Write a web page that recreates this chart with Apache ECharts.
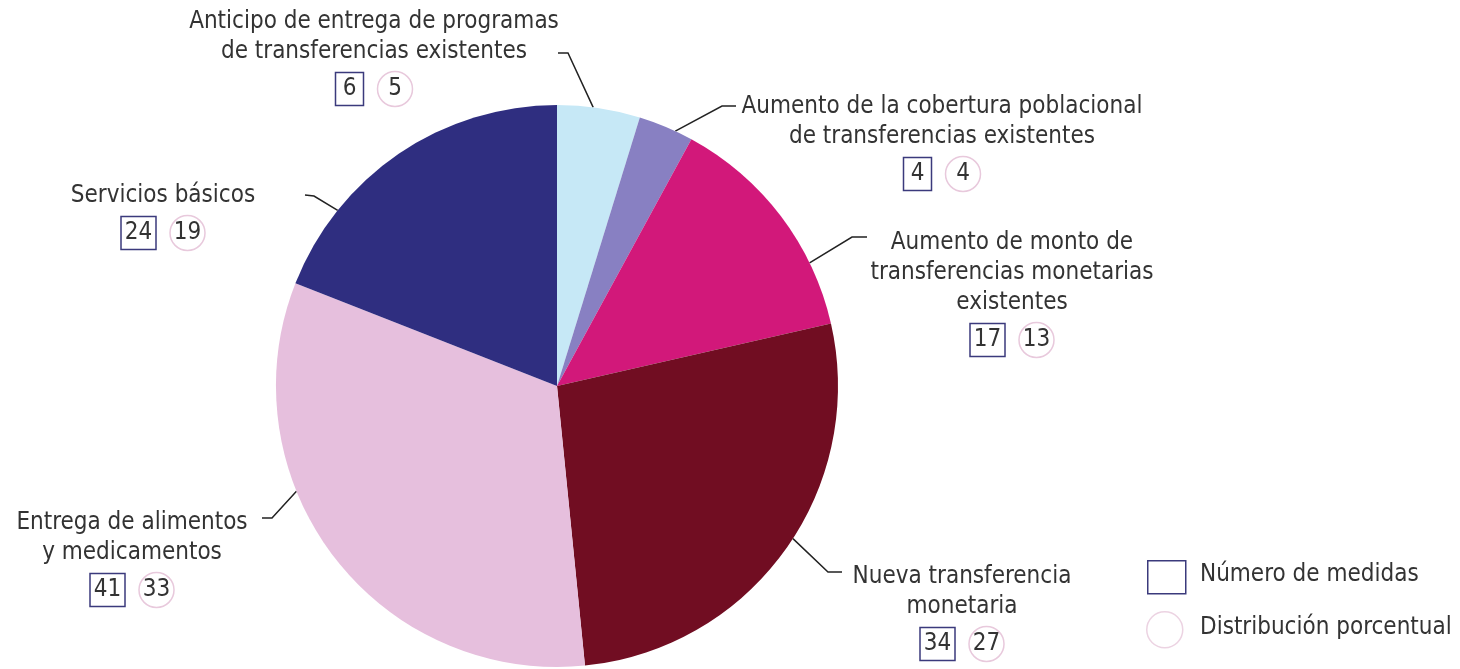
<!DOCTYPE html>
<html>
<head>
<meta charset="utf-8">
<script src="https://cdn.jsdelivr.net/npm/echarts@6/dist/echarts.min.js"></script>
<style>
  html, body { margin: 0; padding: 0; background: #fff; }
  #chart { width: 1460px; height: 669px; }
</style>
</head>
<body>
<div id="chart"></div>
<script>
// categories (label lines), counts and percentage shares
var categories = [
  ["Anticipo de entrega de programas", "de transferencias existentes"],
  ["Aumento de la cobertura poblacional", "de transferencias existentes"],
  ["Aumento de monto de", "transferencias monetarias", "existentes"],
  ["Nueva transferencia", "monetaria"],
  ["Entrega de alimentos", "y medicamentos"],
  ["Servicios básicos"]
];
var medidas = [6, 4, 17, 34, 41, 24];
var porcentaje = [5, 4, 13, 27, 33, 19];
var colors = ["#c6e8f6", "#8880c2", "#d2187a", "#710d22", "#e6bfdd", "#2f2e80"];

var FONT = "'Liberation Sans Narrow', 'DejaVu Sans Condensed', sans-serif";
var CX = 557, CY = 386, R = 281;

var chart = echarts.init(document.getElementById("chart"));

// label anchor spots (center x, top y)
var labelSpots = [
  [374, 7], [942, 92], [1012, 228], [962, 562], [132, 508], [163, 181]
];
// leader lines: angle on the rim (deg, clockwise from top), bend point, end point
var leaders = [
  { a: 7.4, bend: [568, 53], end: [558, 53] },
  { a: 24.9, bend: [722, 106], end: [736, 106] },
  { a: 64, bend: [852, 237], end: [867, 237] },
  { a: 122.9, bend: [828, 572], end: [842, 572] },
  { a: 248, bend: [272, 518], end: [262, 518] },
  { a: 308.7, bend: [314, 196], end: [305, 195] }
];

var data = categories.map(function (c, i) {
  return {
    name: c.join(" "),
    value: medidas[i],
    itemStyle: { color: colors[i] }
  };
});

var boxStyle = function (w) {
  return {
    fontFamily: FONT, fontSize: 24, color: "#333",
    borderColor: "#3b3a7c", borderWidth: 1.5,
    width: w, height: 33, lineHeight: 44, padding: [0, 4], align: "center"
  };
};

var option = {
  animation: false,
  series: [
    {
      type: "pie",
      center: [CX, CY],
      radius: R,
      startAngle: 90,
      clockwise: true,
      data: data,
      label: {
        show: true,
        position: "outside",
        fontFamily: FONT,
        formatter: function (p) {
          var i = p.dataIndex;
          var lines = categories[i].map(function (l) { return "{t|" + l + "}"; });
          var tag = String(medidas[i]).length > 1 ? "n2" : "n1";
          return lines.join("\n") + "\n{" + tag + "|" + medidas[i] + "}{g|}{p|" + porcentaje[i] + "}";
        },
        rich: {
          t: { fontFamily: FONT, fontSize: 24, color: "#333", lineHeight: 30, align: "center" },
          n1: boxStyle(20),
          n2: boxStyle(27),
          g: { width: 14 },
          p: {
            fontFamily: FONT, fontSize: 24, color: "#333",
            borderColor: "#e8c9dc", borderWidth: 1.5, borderRadius: 18,
            width: 35, height: 35, lineHeight: 44, align: "center"
          }
        }
      },
      labelLine: {
        show: true,
        lineStyle: { color: "#222", width: 1.5 }
      },
      labelLayout: function (params) {
        var i = params.dataIndex;
        var s = labelSpots[i];
        var L = leaders[i];
        var rad = L.a * Math.PI / 180;
        var start = [CX + R * Math.sin(rad), CY - R * Math.cos(rad)];
        return {
          x: s[0], y: s[1], align: "center", verticalAlign: "top",
          labelLinePoints: [start, L.bend, L.end]
        };
      }
    }
  ],
  graphic: [
    {
      type: "rect", left: 1147, top: 560,
      shape: { width: 38, height: 33 },
      style: { fill: "#fff", stroke: "#3b3a7c", lineWidth: 1.5 }
    },
    {
      type: "text", left: 1200, top: 563,
      style: { text: "Número de medidas", font: "24px " + FONT, fill: "#333" }
    },
    {
      type: "circle", left: 1146, top: 611,
      shape: { r: 18 },
      style: { fill: "#fff", stroke: "#ecd3e2", lineWidth: 1.5 }
    },
    {
      type: "text", left: 1200, top: 616,
      style: { text: "Distribución porcentual", font: "24px " + FONT, fill: "#333" }
    }
  ]
};

chart.setOption(option);
</script>
</body>
</html>
